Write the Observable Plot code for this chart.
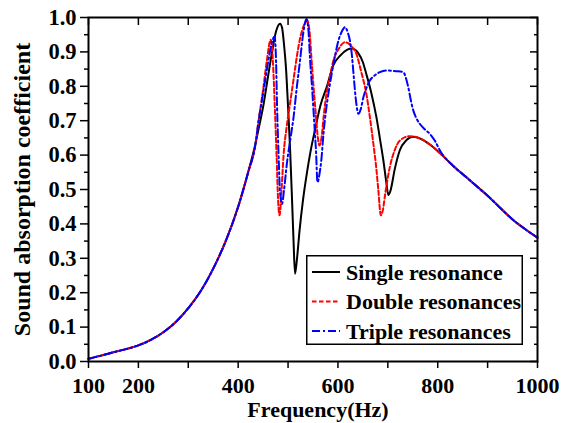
<!DOCTYPE html>
<html>
<head>
<meta charset="utf-8">
<script src="https://cdn.jsdelivr.net/npm/d3@7"></script>
<script src="https://cdn.jsdelivr.net/npm/@observablehq/plot@0.6"></script>
<style>
  body { margin: 0; background: #fff; }
  #wrap { position: relative; width: 561px; height: 423px; font-family: "Liberation Serif", "Times New Roman", serif; font-weight: bold; }
  #legend { position: absolute; left: 306px; top: 255px; }
</style>
</head>
<body>
<div id="wrap"></div>
<script>
// ---- data ----
const seriesNames = ["Single resonance", "Double resonances", "Triple resonances"];
const seriesColors = ["#000000", "#ff0000", "#0000ff"];
const seriesDash = ["none", "4.5,2.5", "8,3,2,3"];

// shared low-frequency part (all three curves coincide)
const commonFreq  = [100, 125, 150, 175, 200, 225, 250, 275, 300, 325, 350, 375, 400, 420, 435];
const commonAlpha = [0.008, 0.017, 0.027, 0.036, 0.047, 0.063, 0.085, 0.115, 0.155, 0.205, 0.27, 0.35, 0.45, 0.55, 0.635];

// Single resonance
const singleFreq  = [440, 450, 460, 468, 476, 484, 488, 492, 496, 500, 504, 508, 511, 514, 518, 523, 530, 538, 545, 555, 565, 578, 591, 605, 618, 628, 640, 650, 657, 667, 677, 685, 691, 697, 701, 705, 714, 724, 737, 751, 765, 785, 805];
const singleAlpha = [0.67, 0.74, 0.83, 0.90, 0.96, 0.982, 0.97, 0.92, 0.85, 0.74, 0.62, 0.47, 0.35, 0.255, 0.30, 0.38, 0.47, 0.55, 0.61, 0.68, 0.745, 0.80, 0.862, 0.89, 0.906, 0.91, 0.898, 0.87, 0.835, 0.78, 0.711, 0.64, 0.585, 0.52, 0.484, 0.495, 0.56, 0.614, 0.643, 0.653, 0.648, 0.63, 0.605];

// Double resonances
const doubleFreq  = [440, 450, 458, 465, 468, 471, 474, 477, 480, 483, 487, 491, 497, 504, 512, 518, 525, 532, 539, 543, 547, 551, 555, 559, 563, 567, 572, 577, 584, 591, 602, 614, 626, 637, 647, 657, 664, 671, 677, 681, 686, 690, 695, 704, 714, 724, 744, 765, 785, 805];
const doubleAlpha = [0.69, 0.79, 0.88, 0.935, 0.91, 0.83, 0.72, 0.60, 0.47, 0.425, 0.50, 0.60, 0.68, 0.75, 0.83, 0.89, 0.945, 0.978, 0.99, 0.96, 0.88, 0.80, 0.73, 0.66, 0.628, 0.65, 0.72, 0.778, 0.83, 0.875, 0.91, 0.928, 0.918, 0.894, 0.84, 0.778, 0.71, 0.633, 0.56, 0.497, 0.425, 0.44, 0.49, 0.565, 0.615, 0.642, 0.655, 0.648, 0.63, 0.605];

// Triple resonances
const tripleFreq  = [440, 450, 460, 467, 473, 476, 478, 481, 484, 488, 492, 498, 505, 511, 517, 524, 530, 537, 541, 544, 548, 551, 554, 556, 559, 563, 567, 571, 577, 584, 593, 601, 608, 614, 620, 624, 628, 631, 636, 641, 646, 651, 657, 664, 674, 684, 697, 717, 731, 736, 741, 746, 751, 758, 764, 774, 784, 795, 805];
const tripleAlpha = [0.69, 0.78, 0.87, 0.925, 0.945, 0.87, 0.74, 0.60, 0.49, 0.458, 0.50, 0.58, 0.65, 0.71, 0.79, 0.875, 0.95, 0.996, 0.96, 0.88, 0.80, 0.73, 0.66, 0.613, 0.521, 0.545, 0.59, 0.662, 0.74, 0.807, 0.88, 0.933, 0.96, 0.972, 0.955, 0.933, 0.89, 0.84, 0.76, 0.72, 0.735, 0.768, 0.795, 0.817, 0.832, 0.841, 0.846, 0.844, 0.841, 0.825, 0.797, 0.76, 0.73, 0.705, 0.691, 0.675, 0.662, 0.64, 0.612];

// shared high-frequency tail
const tailFreq  = [830, 857, 880, 900, 925, 950, 975, 1000];
const tailAlpha = [0.57, 0.536, 0.507, 0.482, 0.447, 0.413, 0.385, 0.36];

// axis ticks
const xTicks = [100, 200, 300, 400, 500, 600, 700, 800, 900, 1000];
const xLabels = [100, 200, 400, 600, 800, 1000];
const yTicks = [0, 0.1, 0.2, 0.3, 0.4, 0.5, 0.6, 0.7, 0.8, 0.9, 1.0];
const yMinorTicks = [0.05, 0.15, 0.25, 0.35, 0.45, 0.55, 0.65, 0.75, 0.85, 0.95];
const xTitle = "Frequency(Hz)";
const yTitle = "Sound absorption coefficient";

// ---- build table ----
function build(name, f, a) {
  const rows = [];
  commonFreq.forEach((x, i) => rows.push({series: name, f: x, alpha: commonAlpha[i]}));
  f.forEach((x, i) => rows.push({series: name, f: x, alpha: a[i]}));
  tailFreq.forEach((x, i) => rows.push({series: name, f: x, alpha: tailAlpha[i]}));
  return rows;
}
const single = build(seriesNames[0], singleFreq, singleAlpha);
const dbl = build(seriesNames[1], doubleFreq, doubleAlpha);
const triple = build(seriesNames[2], tripleFreq, tripleAlpha);

const font = "Liberation Serif";
const plot = Plot.plot({
  width: 561,
  height: 423,
  marginLeft: 88,
  marginRight: 24,
  marginTop: 17,
  marginBottom: 62,
  style: {fontFamily: font, fontWeight: "bold", fontSize: "22px", color: "black", background: "white", overflow: "visible"},
  x: {domain: [100, 1000], label: null},
  y: {domain: [0, 1], label: null},
  marks: [
    // left axis (outward)
    Plot.axisY({ticks: yMinorTicks, tickSize: 4, tickFormat: () => "", label: null, strokeWidth: 1.5}),
    Plot.axisY({ticks: yTicks, tickSize: 8, tickPadding: 4, tickFormat: d3.format(".1f"), label: null, strokeWidth: 1.5, fontSize: 22.5}),
    // right mirrored axis (inward)
    Plot.axisY({anchor: "right", ticks: yMinorTicks, tickSize: -4, tickFormat: () => "", label: null, strokeWidth: 1.5}),
    Plot.axisY({anchor: "right", ticks: yTicks, tickSize: -8, tickFormat: () => "", label: null, strokeWidth: 1.5}),
    // bottom axis (outward)
    Plot.axisX({ticks: xTicks, tickSize: 7, tickPadding: 9, tickFormat: d => xLabels.includes(d) ? String(d) : "", label: null, strokeWidth: 1.5, fontSize: 22}),
    // top mirrored axis (inward)
    Plot.axisX({anchor: "top", ticks: xTicks, tickSize: -7, tickFormat: () => "", label: null, strokeWidth: 1.5}),
    Plot.line(single, {x: "f", y: "alpha", stroke: seriesColors[0], strokeWidth: 2, curve: "monotone-x"}),
    Plot.line(dbl, {x: "f", y: "alpha", stroke: seriesColors[1], strokeWidth: 2, strokeDasharray: seriesDash[1], curve: "monotone-x"}),
    Plot.line(triple, {x: "f", y: "alpha", stroke: seriesColors[2], strokeWidth: 2, strokeDasharray: seriesDash[2], curve: "monotone-x"}),
    Plot.frame({stroke: "black", strokeWidth: 2}),
    Plot.text([xTitle], {text: d => d, frameAnchor: "bottom", textAnchor: "middle", dx: 5, dy: 55, lineAnchor: "bottom", fontSize: 22, fontWeight: "bold"}),
    Plot.text([yTitle], {text: d => d, frameAnchor: "left", textAnchor: "middle", lineAnchor: "middle", dx: -66, rotate: -90, fontSize: 24, fontWeight: "bold"})
  ]
});
const wrap = document.getElementById("wrap");
wrap.appendChild(plot);

// ---- legend inside the plot area ----
const lw = 217, lh = 90;
const leg = d3.select(wrap).append("svg")
  .attr("id", "legend").attr("width", lw).attr("height", lh)
  .style("font-family", font).style("font-weight", "bold").style("font-size", "22px");
leg.append("rect").attr("x", 0.75).attr("y", 0.75).attr("width", lw - 1.5).attr("height", lh - 1.5)
  .attr("fill", "white").attr("stroke", "black").attr("stroke-width", 1.5);
seriesNames.forEach((name, i) => {
  const yy = 17 + i * 29.5;
  leg.append("line").attr("x1", 6).attr("x2", 34).attr("y1", yy).attr("y2", yy)
    .attr("stroke", seriesColors[i]).attr("stroke-width", 2)
    .attr("stroke-dasharray", seriesDash[i] === "none" ? null : seriesDash[i]);
  leg.append("text").attr("x", 40).attr("y", yy).attr("dy", "0.35em").attr("fill", "black").text(name);
});
</script>
</body>
</html>
